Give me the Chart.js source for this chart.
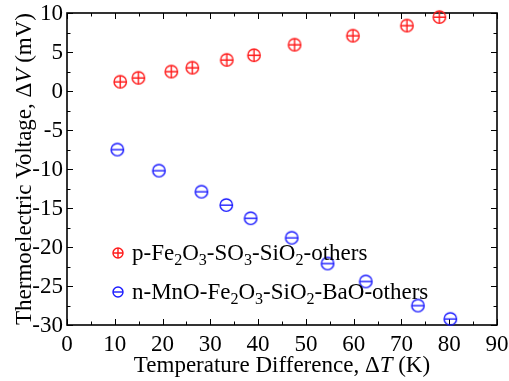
<!DOCTYPE html>
<html>
<head>
<meta charset="utf-8">
<script src="https://cdn.jsdelivr.net/npm/chart.js@4"></script>
<style>
  html, body { margin: 0; padding: 0; background: #fff; }
  #wrap { width: 509px; height: 381px; }
</style>
</head>
<body>
<div id="wrap"><canvas id="chart" width="509" height="381"></canvas></div>
<script>
// values
const tempP = [11.1, 14.9, 21.8, 26.2, 33.4, 39.1, 47.6, 59.8, 71.1, 77.9];
const voltP = [1.2, 1.7, 2.5, 3.0, 4.0, 4.6, 5.95, 7.1, 8.4, 9.5];
const tempN = [10.5, 19.2, 28.1, 33.3, 38.4, 47.0, 54.5, 62.5, 73.4, 80.2];
const voltN = [-7.5, -10.2, -12.9, -14.6, -16.3, -18.8, -22.1, -24.4, -27.5, -29.2];

const labelP = 'p-Fe_2O_3-SO_3-SiO_2-others';
const labelN = 'n-MnO-Fe_2O_3-SiO_2-BaO-others';

const xMin = 0, xMax = 90, xStep = 10, xMinor = 5;
const yMin = -30, yMax = 10, yStep = 5, yMinor = 2.5;

const FONT = "'Liberation Serif', 'Times New Roman', serif";
const RED = '#ff1a1a';
const BLUE = '#1a1aff';

// circle with a plus (p-type) or a bar (n-type) inside
function makeMarker(color, withVertical, r) {
    const c = document.createElement('canvas');
    const size = 2 * r + 4;
    c.width = size; c.height = size;
    const g = c.getContext('2d');
    const m = size / 2;
    g.strokeStyle = color;
    g.lineWidth = 1.4;
    g.beginPath();
    g.arc(m, m, r, 0, Math.PI * 2);
    g.stroke();
    g.beginPath();
    g.moveTo(m - r, m); g.lineTo(m + r, m);
    if (withVertical) { g.moveTo(m, m - r); g.lineTo(m, m + r); }
    g.stroke();
    return c;
}

const markerP = makeMarker(RED, true, 6.2);
const markerN = makeMarker(BLUE, false, 6.2);
const legendP = makeMarker(RED, true, 5);
const legendN = makeMarker(BLUE, false, 5);

// draw text with "_d" meaning subscript digit
function drawRich(ctx, text, x, y, size) {
    const parts = [];
    for (let i = 0; i < text.length; i++) {
        if (text[i] === '_') { parts.push({ t: text[i + 1], sub: true }); i++; }
        else parts.push({ t: text[i], sub: false });
    }
    ctx.textBaseline = 'alphabetic';
    ctx.textAlign = 'left';
    let cx = x;
    parts.forEach(p => {
        const fs = p.sub ? size * 0.7 : size;
        ctx.font = fs + 'px ' + FONT;
        ctx.fillText(p.t, cx, p.sub ? y + size * 0.22 : y);
        cx += ctx.measureText(p.t).width;
    });
}

function measureSegments(ctx, segs, size) {
    let w = 0;
    segs.forEach(s => {
        ctx.font = (s.i ? 'italic ' : '') + size + 'px ' + FONT;
        w += ctx.measureText(s.t).width;
    });
    return w;
}

function drawSegments(ctx, segs, x, y, size) {
    let cx = x;
    segs.forEach(s => {
        ctx.font = (s.i ? 'italic ' : '') + size + 'px ' + FONT;
        ctx.fillText(s.t, cx, y);
        cx += ctx.measureText(s.t).width;
    });
}

const xTitle = [{ t: 'Temperature Difference, \u0394' }, { t: 'T', i: true }, { t: ' (K)' }];
const yTitle = [{ t: 'Thermoelectric Voltage, \u0394' }, { t: 'V', i: true }, { t: ' (mV)' }];

const framePlugin = {
    id: 'frame',
    beforeDatasetsDraw(chart) {
        const { ctx, chartArea: a, scales } = chart;
        const xs = scales.x, ys = scales.y;
        ctx.save();
        ctx.strokeStyle = '#000';
        ctx.lineWidth = 1;
        ctx.beginPath();
        for (let v = xMin; v <= xMax + 1e-9; v += xMinor) {
            const px = Math.round(xs.getPixelForValue(v)) + 0.5;
            const len = (v % xStep === 0) ? 6 : 3.5;
            ctx.moveTo(px, a.bottom); ctx.lineTo(px, a.bottom - len);
            ctx.moveTo(px, a.top); ctx.lineTo(px, a.top + len);
        }
        for (let v = yMin; v <= yMax + 1e-9; v += yMinor) {
            const py = Math.round(ys.getPixelForValue(v)) + 0.5;
            const len = (Math.abs(v % yStep) < 1e-9) ? 6 : 3.5;
            ctx.moveTo(a.left, py); ctx.lineTo(a.left + len, py);
            ctx.moveTo(a.right, py); ctx.lineTo(a.right - len, py);
        }
        ctx.stroke();
        ctx.lineWidth = 1.6;
        ctx.strokeRect(a.left, a.top, a.right - a.left, a.bottom - a.top);

        // tick labels, placed through the scales
        ctx.fillStyle = '#000';
        ctx.font = '23px ' + FONT;
        ctx.textAlign = 'center';
        ctx.textBaseline = 'alphabetic';
        xs.ticks.forEach(t => {
            ctx.fillText(String(t.value), xs.getPixelForValue(t.value), a.bottom + 26);
        });
        ctx.textAlign = 'right';
        ctx.textBaseline = 'middle';
        ys.ticks.forEach(t => {
            ctx.fillText(String(t.value), a.left - 4, ys.getPixelForValue(t.value) + 1);
        });
        ctx.restore();
    },
    afterDraw(chart) {
        const { ctx, chartArea: a } = chart;
        ctx.save();
        ctx.fillStyle = '#000';
        ctx.textBaseline = 'alphabetic';
        ctx.textAlign = 'left';
        const tsize = 23;
        // x title
        const wx = measureSegments(ctx, xTitle, tsize);
        drawSegments(ctx, xTitle, (a.left + a.right) / 2 - wx / 2, 372, tsize);
        // y title
        const wy = measureSegments(ctx, yTitle, tsize);
        ctx.translate(31, (a.top + a.bottom) / 2);
        ctx.rotate(-Math.PI / 2);
        drawSegments(ctx, yTitle, -wy / 2, 0, tsize);
        ctx.restore();

        // legend inside the plot
        ctx.save();
        ctx.fillStyle = '#000';
        const lx = 118;
        [[legendP, labelP, 253], [legendN, labelN, 292]].forEach(([img, txt, ly]) => {
            ctx.drawImage(img, lx - img.width / 2, ly - img.height / 2);
            drawRich(ctx, txt, lx + 14, ly + 7, 23);
        });
        ctx.restore();
    }
};

new Chart(document.getElementById('chart'), {
    type: 'scatter',
    data: {
        datasets: [
            {
                label: labelP,
                data: tempP.map((t, i) => ({ x: t, y: voltP[i] })),
                pointStyle: markerP,
                clip: false
            },
            {
                label: labelN,
                data: tempN.map((t, i) => ({ x: t, y: voltN[i] })),
                pointStyle: markerN,
                clip: false
            }
        ]
    },
    options: {
        responsive: false,
        animation: false,
        devicePixelRatio: 1,
        layout: { padding: { top: 13, right: 12, left: 0, bottom: 0 } },
        plugins: { legend: { display: false }, tooltip: { enabled: false } },
        scales: {
            x: {
                type: 'linear', min: xMin, max: xMax,
                afterFit(s) { s.height = 56; },
                grid: { display: false, drawTicks: false },
                border: { display: false },
                ticks: { stepSize: xStep, display: false }
            },
            y: {
                type: 'linear', min: yMin, max: yMax,
                afterFit(s) { s.width = 67; },
                grid: { display: false, drawTicks: false },
                border: { display: false },
                ticks: { stepSize: yStep, display: false }
            }
        }
    },
    plugins: [framePlugin]
});
</script>
</body>
</html>
